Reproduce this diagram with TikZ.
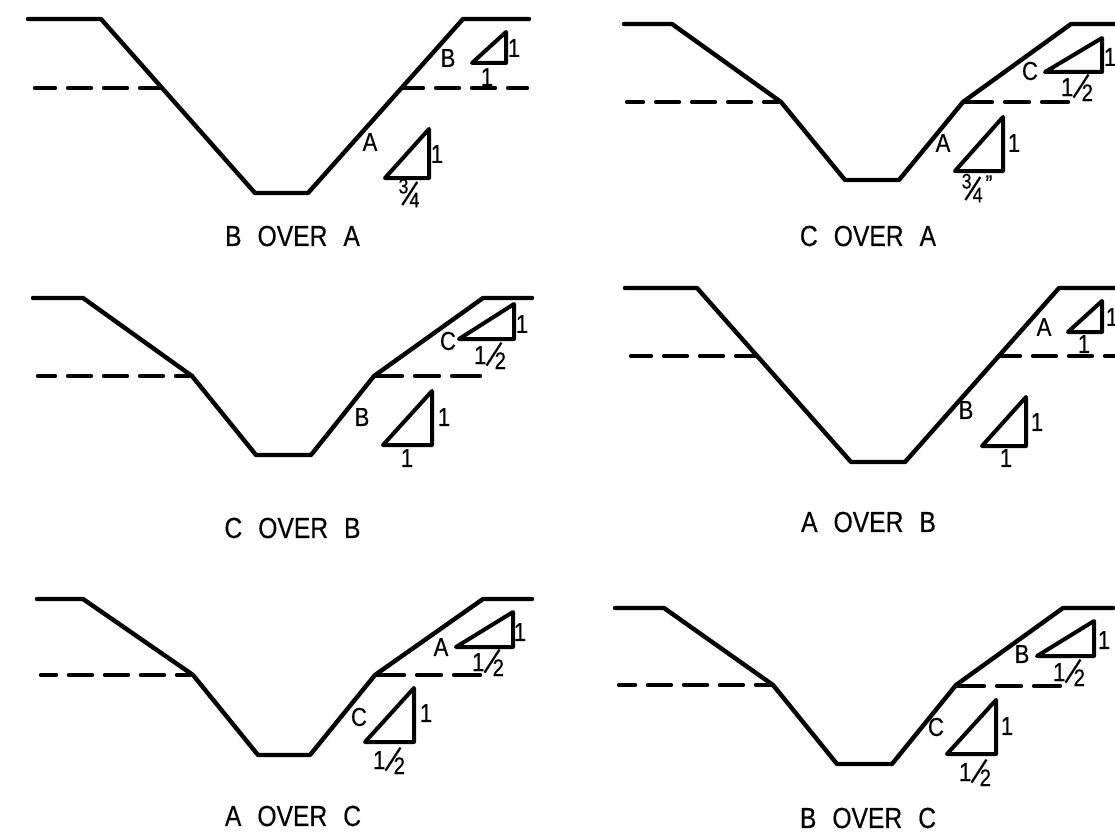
\documentclass[tikz,border=0pt]{standalone}
\usepackage{fontspec}
\setmainfont[FakeStretch=0.85,FakeBold=0.4]{Liberation Sans}
\tikzset{
  x=1pt,y=-1pt,
  ln/.style={line width=4.4pt,line join=round,line cap=round,draw=black},
  tri/.style={line width=4pt,line join=round,line cap=round,draw=black},
  dsh/.style={line width=4.4pt,line cap=round,draw=black,dash pattern=on 23pt off 13pt,dash phase=#1},
  rdsh/.style={line width=4.4pt,line cap=round,draw=black,dash pattern=on 27pt off 13pt on 24pt off 13pt on 28pt off 200pt},
  lab/.style={font=\fontsize{26}{26}\selectfont,inner sep=0pt,text=black},
  captxt/.style={font=\fontsize{29}{29}\selectfont,inner sep=0pt,text=black},
}
\newcommand{\slsh}{\rotatebox[origin=c]{-33}{\fontsize{29}{29}\selectfont |}}
\newcommand{\frc}[2]{\raisebox{7.5pt}{\fontsize{21}{21}\selectfont #1}\kern-8.8pt\slsh\kern-10.3pt\raisebox{-6.3pt}{\fontsize{21}{21}\selectfont #2}}
\newcommand{\mixd}{1\kern-2.4pt\raisebox{2.5pt}{\slsh}\kern-9.4pt\raisebox{-5pt}{\fontsize{24}{24}\selectfont 2}}
\newcommand{\capt}[3]{#1\kern16pt #2\kern16pt #3}
\begin{document}
\begin{tikzpicture}
\useasboundingbox (0,0) rectangle (1115,832);
% panel 1
\draw[ln] (28,19)--(101,19)--(255,193)--(308,193)--(463,19)--(529,19);
\draw[dsh=3pt] (35,88)--(160,88);
\draw[dsh=3pt] (403,88)--(527,88);
\draw[tri] (472,63)--(506,32)--(506,63)--cycle;
\draw[tri] (385,178)--(429,129)--(429,178)--cycle;
\node[lab] (p1b) at (448,58) {B};
\node[lab] (p1a) at (370,142) {A};
\node[lab] (p1o) at (514,48) {1};
\node[lab] (p1u) at (487,77) {1};
\node[lab] (p1p) at (437,154) {1};
\node[lab] (p1f) at (409,193) {\frc{3}{4}};
\node[captxt] (p1c) at (292.5,236) {\capt{B}{OVER}{A}};
% panel 2
\draw[ln] (624,24)--(672,24)--(781,102)--(845,180)--(899,180)--(963,102)--(1071,24)--(1115,24);
\draw[dsh=7pt] (627,102)--(778,102);
\draw[rdsh] (965,102)--(1068,102);
\draw[tri] (1045,72)--(1102,38)--(1102,72)--cycle;
\draw[tri] (955,171)--(1003,117)--(1003,171)--cycle;
\node[lab] (p2c) at (1030,71) {C};
\node[lab] (p2a) at (943,143) {A};
\node[lab] (p2o) at (1110,57) {1};
\node[lab] (p2p) at (1014,143) {1};
\node[lab] (p2m) at (1077,87) {\mixd};
\node[lab] (p2f) at (977,188) {\frc{3}{4}\kern3pt\raisebox{4pt}{\fontsize{24}{24}\selectfont ”}};
\node[captxt] (p2t) at (868,236) {\capt{C}{OVER}{A}};
% panel 3
\draw[ln] (33,298)--(83,298)--(192,376)--(256,455)--(311,455)--(374,376)--(483,298)--(532,298);
\draw[dsh=6pt] (38,376)--(189,376);
\draw[rdsh] (375,376)--(480,376);
\draw[tri] (459,339)--(514,304)--(514,339)--cycle;
\draw[tri] (383,445)--(432,391)--(432,445)--cycle;
\node[lab] (p3c) at (448,341) {C};
\node[lab] (p3b) at (362,417) {B};
\node[lab] (p3o) at (522,324) {1};
\node[lab] (p3p) at (444,417) {1};
\node[lab] (p3m) at (490,355) {\mixd};
\node[lab] (p3u) at (407,458) {1};
\node[captxt] (p3t) at (292.5,528) {\capt{C}{OVER}{B}};
% panel 4
\draw[ln] (625,288)--(697,288)--(851,462)--(905,462)--(1059,288)--(1115,288);
\draw[dsh=3pt] (631,356)--(755,356);
\draw[dsh=3pt] (1000,356)--(1117,356);
\draw[tri] (1068,332)--(1102,301)--(1102,332)--cycle;
\draw[tri] (982,446)--(1026,397)--(1026,446)--cycle;
\node[lab] (p4a) at (1044,327) {A};
\node[lab] (p4b) at (966,410) {B};
\node[lab] (p4o) at (1112,317) {1};
\node[lab] (p4u) at (1084,344) {1};
\node[lab] (p4p) at (1037,422) {1};
\node[lab] (p4q) at (1006,458) {1};
\node[captxt] (p4t) at (868.5,522) {\capt{A}{OVER}{B}};
% panel 5
\draw[ln] (37,599)--(83,599)--(193,675)--(258,755)--(310,755)--(375,675)--(483,599)--(532,599);
\draw[dsh=8pt] (41,675)--(190,675);
\draw[rdsh] (377,675)--(480,675);
\draw[tri] (456,647)--(513,612)--(513,647)--cycle;
\draw[tri] (365,742)--(414,688)--(414,742)--cycle;
\node[lab] (p5a) at (441,647) {A};
\node[lab] (p5c) at (359,717) {C};
\node[lab] (p5o) at (520,632) {1};
\node[lab] (p5p) at (426,713) {1};
\node[lab] (p5m) at (488,662) {\mixd};
\node[lab] (p5n) at (389,760) {\mixd};
\node[captxt] (p5t) at (293,816) {\capt{A}{OVER}{C}};
% panel 6
\draw[ln] (615,608)--(664,608)--(773,685)--(837,764)--(892,764)--(956,685)--(1063,608)--(1113,608);
\draw[dsh=7pt] (619,685)--(771,685);
\draw[rdsh] (957,686)--(1060,686);
\draw[tri] (1037,656)--(1094,621)--(1094,656)--cycle;
\draw[tri] (947,754)--(996,700)--(996,754)--cycle;
\node[lab] (p6b) at (1022,654) {B};
\node[lab] (p6c) at (936,727) {C};
\node[lab] (p6o) at (1104,640) {1};
\node[lab] (p6p) at (1007,726) {1};
\node[lab] (p6m) at (1069,672) {\mixd};
\node[lab] (p6n) at (975,772) {\mixd};
\node[captxt] (p6t) at (868,818) {\capt{B}{OVER}{C}};
\end{tikzpicture}
\end{document}
